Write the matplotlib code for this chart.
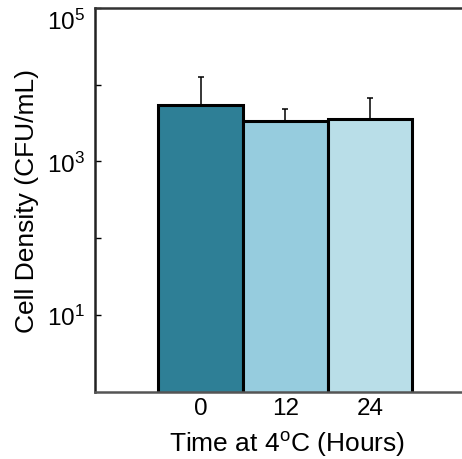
import matplotlib
matplotlib.use("Agg")
import matplotlib.pyplot as plt
import matplotlib.transforms as mtransforms
import numpy as np

plt.rcParams['font.family'] = ['Liberation Sans', 'DejaVu Sans']
plt.rcParams['mathtext.fontset'] = 'custom'
plt.rcParams['mathtext.rm'] = 'Liberation Sans'
plt.rcParams['mathtext.it'] = 'Liberation Sans:italic'

categories = ['0', '12', '24']
density = [5400, 3360, 3530]
err_upper = [7200, 1500, 3100]
colors = ['#2E7F96', '#96CCDE', '#B9DEE8']

fig = plt.figure(figsize=(4.62, 4.60), dpi=100)
ax = fig.add_axes([95/462, 1 - 392.5/460, 1 - 95/462, (392.5 - 9)/460])

x = np.arange(len(categories))
ax.bar(x, density, width=1.0, color=colors, edgecolor='black', linewidth=2.2, zorder=2)
ax.errorbar(x, density, yerr=[np.zeros(len(x)), err_upper], fmt='none',
            ecolor='black', elinewidth=1.1, capsize=2.2, capthick=1.1, zorder=1)

ax.set_yscale('log')
ax.set_ylim(1, 1e5)
ax.set_xlim(-1.249, 3.088)

ax.set_yticks([1e1, 1e3, 1e5])
ax.set_yticklabels([r'$10^1$', r'$10^3$', r'$10^5$'], fontsize=17.5)
ax.set_yticks([1e2, 1e4], minor=True)
ax.yaxis.set_minor_formatter(matplotlib.ticker.NullFormatter())
ax.tick_params(axis='y', which='both', direction='in', length=4, width=1, pad=7)
# top label sits a little lower in the reference
top_lbl = ax.get_yticklabels()[-1]
top_lbl.set_transform(top_lbl.get_transform() +
                      mtransforms.ScaledTranslation(0, -11/100, fig.dpi_scale_trans))

ax.set_xticks(x)
ax.set_xticklabels(categories, fontsize=17.5)
ax.tick_params(axis='x', length=0, pad=4)

ax.set_xlabel(r'Time at 4$^{\mathrm{o}}$C (Hours)', fontsize=19)
ax.xaxis.set_label_coords((286.5 - 95) / 367, -0.099)
ax.xaxis.label.set_va('top')
ax.set_ylabel('Cell Density (CFU/mL)', fontsize=19, labelpad=6)

ax.spines['right'].set_visible(False)
ax.spines['top'].set_color('#333333')
ax.spines['left'].set_color('#222222')
ax.spines['bottom'].set_color('#555555')
for s in ['top', 'left', 'bottom']:
    ax.spines[s].set_linewidth(1.8)

fig.savefig('out.png', dpi=100)
